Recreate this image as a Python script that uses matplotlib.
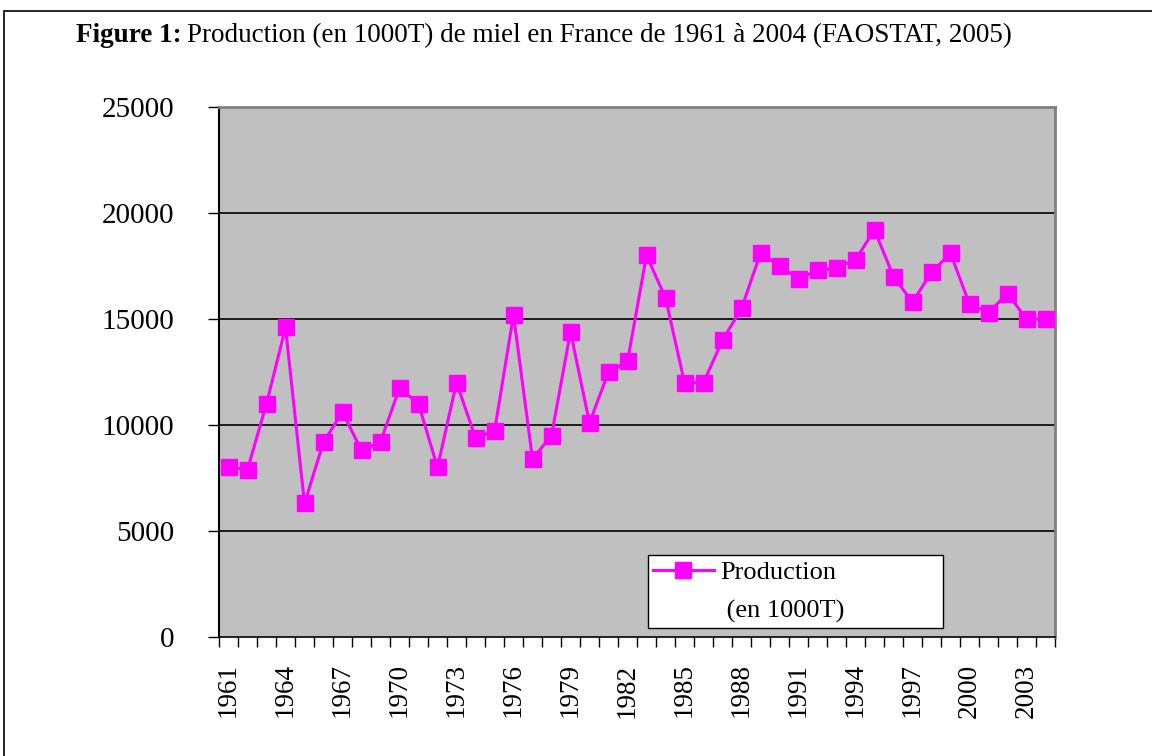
import matplotlib
matplotlib.use("Agg")
import matplotlib.pyplot as plt
from matplotlib.patches import Rectangle
from matplotlib.lines import Line2D
import numpy as np

# honey production in France
years = list(range(1961, 2005))
production = [8000, 7900, 11000, 14600, 6300, 9200, 10600, 8800, 9200, 11750,
              11000, 8000, 12000, 9400, 9700, 15200, 8400, 9500, 14400, 10100,
              12500, 13000, 18000, 16000, 12000, 12000, 14000, 15500, 18100, 17500,
              16900, 17300, 17400, 17800, 19200, 17000, 15800, 17200, 18100, 15700,
              15300, 16200, 15000, 15000]
y_ticks = [0, 5000, 10000, 15000, 20000, 25000]

plt.rcParams['font.family'] = ['Liberation Serif', 'DejaVu Serif']

fig = plt.figure(figsize=(11.52, 7.56), dpi=100)
ax = fig.add_axes([219/1152, 1 - 637/756, 836/1152, 530/756])

# frame around the whole figure
fig.patches.append(Rectangle((4/1152, -0.1), 1.2, 1 - 11/756 + 0.1,
                             transform=fig.transFigure, fill=False,
                             edgecolor='black', linewidth=1.2))

# title: bold prefix then normal text right after it
t1 = fig.text(76/1152, 1 - 42/756, "Figure 1:", fontsize=19.5, fontweight='bold',
              va='baseline', ha='left')
fig.canvas.draw()
bb = t1.get_window_extent()
fig.text((bb.x1 + 5) / 1152, 1 - 42/756,
         "Production (en 1000T) de miel en France de 1961 à 2004 (FAOSTAT, 2005)",
         fontsize=19.5, va='baseline', ha='left')

x = np.arange(len(years))
ax.set_facecolor('#C0C0C0')
line, = ax.plot(x, production, color='#FF00FF', linewidth=2.2, marker='s',
                markersize=12, markeredgecolor='#FF00FF', zorder=3)

ax.set_xlim(-0.5, len(years) - 0.5)
ax.set_ylim(0, 25000)
ax.set_yticks(y_ticks)
ax.set_yticklabels([str(v) for v in y_ticks], fontsize=21)
for v in y_ticks[1:-1]:
    ax.axhline(v, color='black', linewidth=1.2, zorder=1)

ax.set_xticks(x[::3])
ax.set_xticklabels([str(years[i]) for i in x[::3]], rotation=90, fontsize=19.5)
ax.set_xticks(np.arange(-0.5, len(years)), minor=True)
ax.tick_params(axis='x', which='major', length=0, pad=19)
ax.tick_params(axis='x', which='minor', length=7.5, width=1, direction='out')
ax.tick_params(axis='y', length=8, width=1, direction='out', pad=24)

ax.spines['left'].set_color('black')
ax.spines['bottom'].set_color('black')
ax.spines['left'].set_linewidth(1.5)
ax.spines['bottom'].set_linewidth(1.2)
ax.spines['top'].set_color('#808080')
ax.spines['right'].set_color('#808080')
ax.spines['top'].set_linewidth(2)
ax.spines['right'].set_linewidth(2)

blank = Line2D([], [], color='none')
leg = ax.legend([line, blank], ["Production", " (en 1000T)"],
                loc='upper left', bbox_to_anchor=(0.513, 0.1547, 0.353, 0.0),
                mode='expand', fontsize=19, frameon=True, fancybox=False,
                edgecolor='black', framealpha=1, handlelength=2.3,
                borderpad=0.2, handletextpad=0.25, labelspacing=0.58,
                borderaxespad=0)
leg.get_frame().set_linewidth(1)

fig.savefig("out.png", dpi=100, facecolor='white')
